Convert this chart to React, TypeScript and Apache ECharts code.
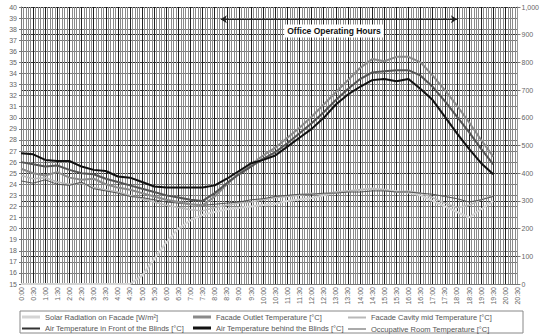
import React, { useEffect, useRef } from "react";
import * as echarts from "echarts";

const HOURS = [
  0, 0.5, 1, 1.5, 2, 2.5, 3, 3.5, 4, 4.5, 5, 5.5, 6, 6.5, 7, 7.5, 8, 8.5, 9, 9.5,
  10, 10.5, 11, 11.5, 12, 12.5, 13, 13.5, 14, 14.5, 15, 15.5, 16, 16.5, 17, 17.5, 18, 18.5, 19, 19.5,
];

const SOLAR = [
  0, 0, 0, 0, 0, 0, 0, 0, 0, 0, 30, 90, 150, 200, 230, 250, 260, 270, 275, 280,
  285, 290, 300, 305, 310, 320, 330, 335, 340, 345, 340, 335, 330, 320, 300, 280, 260, 240, 270, 300,
];

const OUTLET = [
  25.4, 25.0, 24.8, 25.1, 24.6, 24.4, 24.5, 24.0, 23.7, 23.5, 23.2, 22.9, 22.6, 22.4, 22.2, 22.1, 22.9, 24.0, 25.0, 25.8,
  26.6, 27.3, 28.2, 29.1, 30.1, 31.2, 32.3, 33.4, 34.5, 35.3, 35.1, 35.5, 35.5, 35.0, 33.8, 32.5, 31.1, 29.6, 28.0, 26.5,
];

const CAVITY = [
  24.8, 24.5, 24.6, 24.2, 24.0, 24.1, 23.7, 23.5, 23.3, 23.0, 22.7, 22.4, 22.1, 21.9, 21.7, 21.6, 21.9, 22.1, 22.3, 22.4,
  22.6, 22.8, 22.9, 23.0, 23.2, 23.1, 23.3, 23.4, 23.5, 23.6, 23.5, 23.3, 23.4, 23.2, 22.8, 22.3, 21.9, 22.1, 22.6, 23.0,
];

const FRONT = [
  26.0, 25.8, 25.6, 25.7, 25.3, 25.0, 24.9, 24.5, 24.2, 23.9, 23.6, 23.3, 23.0, 22.8, 22.6, 22.5, 23.2, 24.1, 24.9, 25.6,
  26.3, 26.9, 27.7, 28.6, 29.5, 30.5, 31.6, 32.6, 33.5, 34.1, 34.2, 34.3, 34.3, 33.8, 32.8, 31.5, 30.1, 28.7, 27.2, 25.8,
];

const BEHIND = [
  26.8, 26.7, 26.2, 26.1, 26.1, 25.6, 25.3, 25.2, 24.7, 24.6, 24.2, 23.8, 23.7, 23.7, 23.7, 23.7, 23.9, 24.5, 25.2, 25.9,
  26.2, 26.6, 27.4, 28.2, 29.0, 30.0, 31.2, 32.1, 32.8, 33.4, 33.5, 33.3, 33.5, 32.6, 31.6, 30.1, 28.6, 27.2, 25.9, 24.9,
];

const ROOM = [
  24.3, 24.1, 24.4, 24.0, 23.9, 24.2, 23.6, 23.4, 23.2, 22.9, 22.8, 22.6, 22.4, 22.3, 22.2, 22.1, 22.2, 22.3, 22.4, 22.6,
  22.7, 22.9, 23.0, 23.1, 23.1, 23.2, 23.2, 23.3, 23.3, 23.4, 23.4, 23.3, 23.3, 23.2, 23.1, 22.9, 22.7, 22.4, 22.6, 22.9,
];

const NAMES = [
  "Solar Radiation on Facade [W/m²]",
  "Facade Outlet Temperature [°C]",
  "Facade Cavity mid Temperature [°C]",
  "Air Temperature in Front of the Blinds [°C]",
  "Air Temperature behind the Blinds [°C]",
  "Occupative Room Temperature [°C]",
];

const OFFICE_START = 8.25;
const OFFICE_END = 18;

function pairs(v: number[]) {
  return HOURS.map((h, i) => [h, v[i]]);
}

function fmtHour(v: number) {
  const h = Math.floor(v + 1e-6);
  const m = Math.round((v - h) * 60);
  return `${h}:${m < 10 ? "0" + m : m}`;
}

export default function App() {
  const ref = useRef<HTMLDivElement>(null);
  useEffect(() => {
    const chart = echarts.init(ref.current!, null, { renderer: "svg" });
    const font = "Liberation Sans, Arial, sans-serif";
    const legendPos = [
      { left: 22, top: 313 },
      { left: 193, top: 313 },
      { left: 348, top: 313 },
      { left: 22, top: 324 },
      { left: 193, top: 324 },
      { left: 348, top: 324 },
    ];
    const legendH = [3, 3, 2, 2, 3, 1];
    chart.setOption({
      animation: false,
      backgroundColor: "#ffffff",
      grid: { left: 21, right: 19, top: 7, bottom: 51, containLabel: false },
      legend: NAMES.map((n, i) => ({
        data: [n],
        left: legendPos[i].left,
        top: legendPos[i].top + (3 - legendH[i]) / 2,
        padding: 0,
        icon: "rect",
        itemWidth: 18,
        itemHeight: legendH[i],
        itemGap: 2,
        textStyle: { fontSize: 7.5, color: "#555", fontFamily: font },
      })),
      xAxis: {
        type: "value",
        min: 0,
        max: 20.5,
        interval: 0.5,
        axisLine: { show: true, lineStyle: { color: "#777" } },
        axisTick: { show: false },
        axisLabel: {
          rotate: 90,
          fontSize: 7,
          color: "#666",
          margin: 3,
          fontFamily: font,
          formatter: (v: number) => fmtHour(v),
        },
        splitLine: { show: true, lineStyle: { color: "#1e1e1e", width: 1 } },
        minorTick: { show: false, splitNumber: 5 },
        minorSplitLine: { show: true, lineStyle: { color: "#8a8a8a", width: 1 } },
      },
      yAxis: [
        {
          type: "value",
          min: 15,
          max: 40,
          interval: 1,
          axisLine: { show: true, lineStyle: { color: "#777" } },
          axisTick: { show: true, length: 2, lineStyle: { color: "#777" } },
          axisLabel: { fontSize: 7, color: "#666", margin: 4, fontFamily: font },
          splitLine: { show: true, lineStyle: { color: "#7a7a7a", width: 1 } },
        },
        {
          type: "value",
          min: 0,
          max: 1000,
          interval: 100,
          position: "right",
          axisLine: { show: true, lineStyle: { color: "#999" } },
          axisTick: { show: true, length: 3, lineStyle: { color: "#777" } },
          axisLabel: { fontSize: 7, color: "#666", margin: 4, fontFamily: font },
          splitLine: { show: true, lineStyle: { color: "#333", width: 1 } },
        },
      ],
      series: [
        {
          name: NAMES[0],
          type: "line",
          yAxisIndex: 1,
          data: pairs(SOLAR),
          symbol: "none",
          lineStyle: { color: "#d4d4d4", width: 2 },
          itemStyle: { color: "#d4d4d4" },
          z: 3,
        },
        {
          name: NAMES[2],
          type: "line",
          data: pairs(CAVITY),
          symbol: "none",
          lineStyle: { color: "#b8b8b8", width: 1.5 },
          itemStyle: { color: "#b8b8b8" },
          z: 4,
        },
        {
          name: NAMES[5],
          type: "line",
          data: pairs(ROOM),
          symbol: "none",
          lineStyle: { color: "#555", width: 1 },
          itemStyle: { color: "#555" },
          z: 4,
        },
        {
          name: NAMES[1],
          type: "line",
          data: pairs(OUTLET),
          symbol: "none",
          lineStyle: { color: "#8a8a8a", width: 2 },
          itemStyle: { color: "#8a8a8a" },
          z: 5,
        },
        {
          name: NAMES[3],
          type: "line",
          data: pairs(FRONT),
          symbol: "none",
          lineStyle: { color: "#555", width: 2 },
          itemStyle: { color: "#333" },
          z: 6,
        },
        {
          name: NAMES[4],
          type: "line",
          data: pairs(BEHIND),
          symbol: "none",
          lineStyle: { color: "#111", width: 2 },
          itemStyle: { color: "#111" },
          z: 7,
          markLine: {
            silent: true,
            symbol: ["arrow", "arrow"],
            symbolSize: 6,
            label: { show: false },
            lineStyle: { color: "#222", width: 1, type: "solid" },
            data: [[{ coord: [OFFICE_START, 38.9] }, { coord: [OFFICE_END, 38.9] }]],
          },
        },
      ],
      graphic: [
        {
          type: "rect",
          shape: { x: 20, y: 311, width: 503, height: 22 },
          style: { fill: "none", stroke: "#888", lineWidth: 1 },
          z: 1,
        },
        {
          type: "text",
          x: 334,
          y: 31,
          z: 100,
          style: {
            text: "Office Operating Hours",
            fontSize: 8.5,
            fontWeight: "bold",
            fontFamily: font,
            fill: "#111",
            align: "center",
            verticalAlign: "middle",
            backgroundColor: "#fff",
            padding: [2, 3],
          },
        },
      ],
    });
    return () => chart.dispose();
  }, []);
  return <div ref={ref} style={{ position: "fixed", left: 0, top: 0, width: 542, height: 335 }} />;
}
